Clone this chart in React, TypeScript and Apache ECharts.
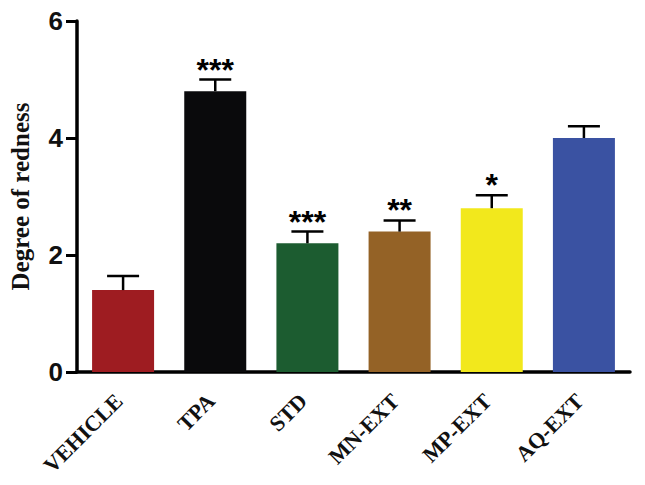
import React, { useEffect, useRef } from "react";
import * as echarts from "echarts";

const categories = ["VEHICLE", "TPA", "STD", "MN-EXT", "MP-EXT", "AQ-EXT"];
const means = [1.4, 4.8, 2.2, 2.4, 2.8, 4.0];
const errors = [0.24, 0.2, 0.2, 0.19, 0.22, 0.2];
const stars = ["", "***", "***", "**", "*", ""];
const colors = ["#9e1c21", "#0a0a0c", "#1c5c30", "#946226", "#f2e81c", "#3a52a2"];
const yTicks = [0, 2, 4, 6];

export default function App() {
  const ref = useRef<HTMLDivElement>(null);
  useEffect(() => {
    if (!ref.current) return;
    const chart = echarts.init(ref.current, null, { renderer: "svg" });
    chart.setOption({
      animation: false,
      backgroundColor: "#ffffff",
      grid: { left: 73, right: 15, top: 21, bottom: 113 },
      xAxis: {
        type: "category",
        data: categories,
        axisLine: { lineStyle: { color: "#000", width: 3.5 } },
        axisTick: { alignWithLabel: true, length: 11, lineStyle: { color: "#000", width: 3 } },
        axisLabel: {
          rotate: 45,
          margin: 21,
          padding: [0, 6, 0, 0],
          color: "#111",
          fontFamily: "Liberation Serif",
          fontWeight: "bold",
          fontSize: 22,
          interval: 0,
        },
      },
      yAxis: {
        type: "value",
        min: yTicks[0],
        max: yTicks[yTicks.length - 1],
        interval: 2,
        name: "Degree of redness",
        nameLocation: "middle",
        nameGap: 44,
        nameTextStyle: {
          color: "#111",
          fontFamily: "Liberation Serif",
          fontWeight: "bold",
          fontSize: 25,
        },
        splitLine: { show: false },
        axisLine: { show: true, lineStyle: { color: "#000", width: 3.5 } },
        axisTick: { show: true, length: 11, lineStyle: { color: "#000", width: 3 } },
        axisLabel: {
          margin: 14,
          color: "#111",
          fontFamily: "Liberation Sans",
          fontWeight: "bold",
          fontSize: 26,
        },
      },
      series: [
        {
          type: "bar",
          data: means.map((v, i) => ({ value: v, itemStyle: { color: colors[i] } })),
          barWidth: 62,
        },
        {
          type: "custom",
          data: means.map((v, i) => [i, v, errors[i]]),
          z: 3,
          renderItem: (params: any, api: any) => {
            const i = api.value(0);
            const top = api.coord([i, api.value(1)]);
            const cap = api.coord([i, api.value(1) + api.value(2)]);
            const hw = 16;
            const s = stars[params.dataIndex];
            const children: any[] = [
              { type: "line", shape: { x1: top[0], y1: top[1], x2: cap[0], y2: cap[1] }, style: { stroke: "#000", lineWidth: 2.5 } },
              { type: "line", shape: { x1: cap[0] - hw, y1: cap[1], x2: cap[0] + hw, y2: cap[1] }, style: { stroke: "#000", lineWidth: 2.5 } },
            ];
            if (s) {
              children.push({
                type: "text",
                x: cap[0],
                y: cap[1] + 6,
                style: {
                  text: s,
                  fill: "#000",
                  font: "bold 32px 'Liberation Sans'",
                  textAlign: "center",
                  textVerticalAlign: "bottom",
                },
              });
            }
            return { type: "group", children };
          },
        },
      ],
    });
    return () => chart.dispose();
  }, []);
  return (
    <div
      ref={ref}
      style={{ position: "absolute", left: 0, top: 0, width: 645, height: 485 }}
    />
  );
}
